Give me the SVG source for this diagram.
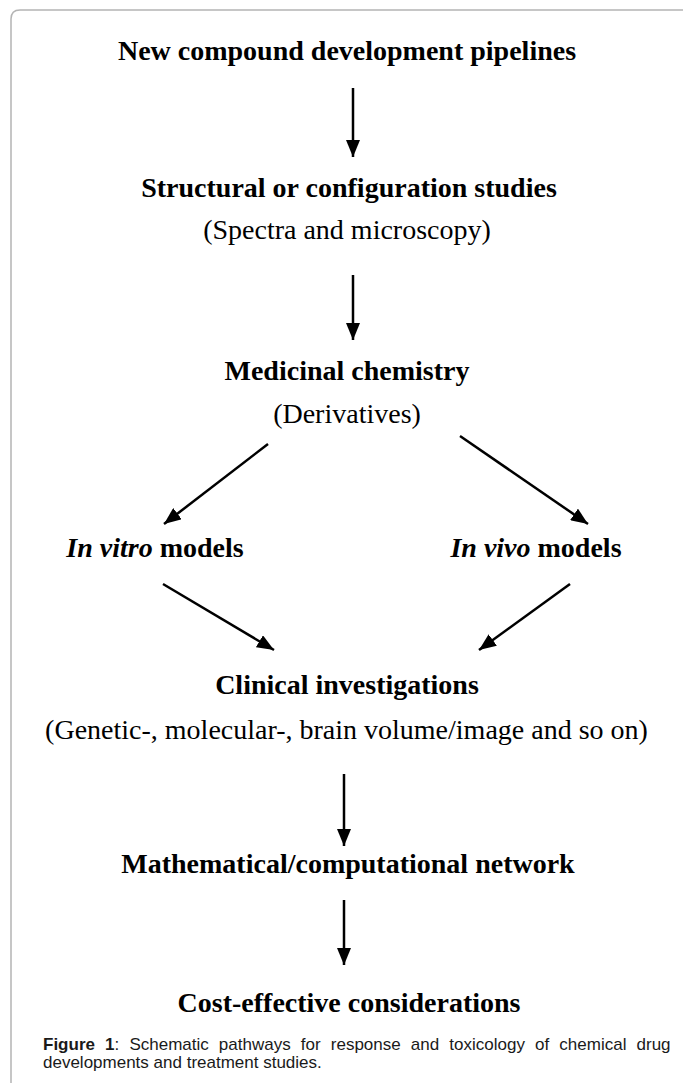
<svg xmlns="http://www.w3.org/2000/svg" width="683" height="1083" viewBox="0 0 683 1083">
<style>
.h{font-family:"Liberation Serif","Times New Roman",serif;font-size:28px;font-weight:bold;fill:#000;text-anchor:middle}
.p{font-family:"Liberation Serif","Times New Roman",serif;font-size:28px;fill:#000;text-anchor:middle}
.i{font-style:italic}
.c{font-family:"Liberation Sans",Arial,sans-serif;font-size:17px;fill:#1a1a1a}
.a{stroke:#000;stroke-width:2.5;fill:none;marker-end:url(#ah)}
</style>
<defs>
<marker id="ah" markerUnits="userSpaceOnUse" markerWidth="17" markerHeight="14" refX="17" refY="7" orient="auto" viewBox="0 0 17 14">
<path d="M0,0 L17,7 L0,14 Z" fill="#000"/>
</marker>
</defs>
<rect width="683" height="1083" fill="#fff"/>
<path d="M11,1083 V19 Q11,10 20,10 H683" fill="none" stroke="#b4b4b4" stroke-width="1.5"/>
<g id="n1"><text class="h" x="347" y="60">New compound development pipelines</text></g>
<g id="n2"><text class="h" x="349" y="197">Structural or configuration studies</text><text class="p" x="347" y="239">(Spectra and microscopy)</text></g>
<g id="n3"><text class="h" x="347" y="380">Medicinal chemistry</text><text class="p" x="347" y="423">(Derivatives)</text></g>
<g id="n4"><text class="h" x="155" y="557"><tspan class="i">In vitro</tspan> models</text></g>
<g id="n5"><text class="h" x="536" y="557"><tspan class="i">In vivo</tspan> models</text></g>
<g id="n6"><text class="h" x="347" y="694">Clinical investigations</text><text class="p" x="346.5" y="739">(Genetic-, molecular-, brain volume/image and so on)</text></g>
<g id="n7"><text class="h" x="348" y="873">Mathematical/computational network</text></g>
<g id="n8"><text class="h" x="349" y="1012">Cost-effective considerations</text></g>
<g id="connectors">
<line class="a" x1="353" y1="88" x2="353" y2="157"/>
<line class="a" x1="353" y1="275" x2="353" y2="340"/>
<line class="a" x1="268" y1="444" x2="164" y2="524"/>
<line class="a" x1="460" y1="436" x2="588" y2="524"/>
<line class="a" x1="163" y1="584" x2="274" y2="650"/>
<line class="a" x1="570" y1="584" x2="479" y2="650"/>
<line class="a" x1="344" y1="774" x2="344" y2="846"/>
<line class="a" x1="344" y1="900" x2="344" y2="965"/>
</g>
<g id="caption">
<text class="c" x="43" y="1050" word-spacing="5.4"><tspan font-weight="bold">Figure 1</tspan>: Schematic pathways for response and toxicology of chemical drug</text>
<text class="c" x="43" y="1068">developments and treatment studies.</text>
</g>
</svg>
